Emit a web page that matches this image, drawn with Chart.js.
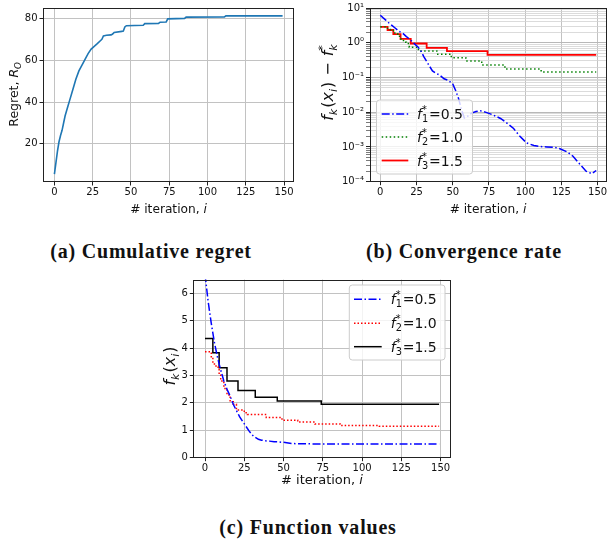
<!DOCTYPE html>
<html><head><meta charset="utf-8">
<script src="https://cdn.jsdelivr.net/npm/chart.js@4.4.0/dist/chart.umd.min.js"></script>
<style>
html,body{margin:0;padding:0;background:#fff;}
#page{position:relative;width:607px;height:542px;overflow:hidden;background:#fff;}
canvas{position:absolute;display:block;}
.cap{position:absolute;font-family:"Liberation Serif","Times New Roman",serif;font-weight:bold;font-size:20px;line-height:20px;letter-spacing:0.8px;white-space:nowrap;transform:translateX(-50%);color:#111;}
</style></head>
<body><div id="page">
<canvas id="ca" width="300" height="225" style="left:0;top:0"></canvas>
<div style="position:absolute;left:300px;top:0;width:307px;height:225px;overflow:hidden"><canvas id="cb" width="330" height="225" style="left:0;top:0"></canvas></div>
<canvas id="cc" width="310" height="225" style="left:150px;top:270px"></canvas>
<div class="cap" style="left:151px;top:241px">(a) Cumulative regret</div>
<div class="cap" style="left:464px;top:241px">(b) Convergence rate</div>
<div class="cap" style="left:308px;top:517px">(c) Function values</div>
</div>
<script>
// ---------- data ----------
const xTicks = [0, 25, 50, 75, 100, 125, 150];
const yTicksA = [20, 40, 60, 80];
const yTicksC = [0, 1, 2, 3, 4, 5, 6];
const logExpsB = [-4, -3, -2, -1, 0, 1];
const logLabelsB = ['10\u207B\u2074', '10\u207B\u00B3', '10\u207B\u00B2', '10\u207B\u00B9', '10\u2070', '10\u00B9'];
const fStarLabels = ['0.5', '1.0', '1.5'];

// (a) cumulative regret
const iterA = [0, 1, 2, 3, 4, 5, 6, 7, 8, 9, 10, 12, 14, 16, 18, 20, 22, 24, 26, 28, 30, 31, 32, 34, 37, 38, 39, 44, 45, 46, 47, 58, 59, 68, 69, 73, 74, 85, 86, 111, 112, 149];
const regretA = [5.5, 11, 16.5, 21, 24, 26.5, 30, 33.5, 36, 38.5, 41, 46, 51, 55, 57.8, 60.6, 63.3, 65.5, 66.8, 68.1, 69.5, 70.2, 71.8, 72.1, 72.3, 72.7, 73.5, 74.0, 74.1, 76.1, 76.7, 76.9, 77.7, 77.8, 78.4, 78.5, 80.0, 80.2, 80.8, 80.9, 81.4, 81.4];

// (b) gaps f_k(x_i) - f_k*
const iterF1 = [0, 2, 4, 6, 8, 10, 12, 14, 16, 18, 20, 22, 24, 26, 28, 30, 32, 34, 36, 38, 41, 44, 47, 50, 52, 54, 56, 58, 60, 63, 66, 69, 73, 78, 83, 87, 92, 96, 101, 106, 110, 115, 120, 124, 129, 133, 138, 142, 146, 149];
const gapF1 = [6.2, 5.2, 4.4, 3.7, 3.15, 2.7, 2.3, 2.0, 1.8, 1.5, 1.3, 1.08, 0.9, 0.76, 0.58, 0.4, 0.29, 0.21, 0.155, 0.135, 0.117, 0.092, 0.082, 0.065, 0.042, 0.025, 0.012, 0.0068, 0.0075, 0.0094, 0.0105, 0.011, 0.0099, 0.0083, 0.0066, 0.005, 0.0034, 0.0021, 0.0013, 0.0011, 0.00103, 0.001, 0.00098, 0.00089, 0.00072, 0.00054, 0.00031, 0.0002, 0.00017, 0.00021];
const iterF2 = [0, 4, 5, 7, 9, 10, 12, 14, 16, 18, 20, 25, 27, 39, 49, 59, 70, 86, 111, 149];
const gapF2 = [2.87, 2.62, 2.42, 2.30, 2.08, 1.80, 1.53, 1.29, 1.04, 0.95, 0.74, 0.64, 0.58, 0.47, 0.37, 0.30, 0.23, 0.175, 0.144, 0.144];
const iterF3 = [0, 5, 9, 14, 21, 32, 46, 74, 149];
const gapF3 = [2.85, 2.33, 1.78, 1.30, 0.95, 0.71, 0.57, 0.45, 0.45];

// (c) function values f_k(x_i)
const iterC1 = [0, 2, 4, 6, 8, 10, 12, 14, 16, 18, 20, 22, 24, 26, 28, 30, 32, 34, 36, 38, 41, 44, 47, 50, 55, 60, 149];
const valC1 = [6.7, 5.7, 4.9, 4.2, 3.65, 3.2, 2.8, 2.5, 2.25, 1.95, 1.72, 1.5, 1.32, 1.15, 0.98, 0.83, 0.74, 0.67, 0.64, 0.62, 0.605, 0.585, 0.575, 0.56, 0.52, 0.505, 0.5];
const valC2 = [3.87, 3.62, 3.42, 3.30, 3.08, 2.80, 2.53, 2.29, 2.04, 1.95, 1.74, 1.64, 1.58, 1.47, 1.37, 1.30, 1.23, 1.175, 1.144, 1.144];
const valC3 = [4.35, 3.83, 3.28, 2.80, 2.45, 2.21, 2.07, 1.95, 1.95];

// ---------- helpers ----------
const pts = (xs, ys) => xs.map((x, i) => ({x: x, y: ys[i]}));
const FAM = '"DejaVu Sans"';
function fontStr(size, it) { return (it ? 'italic ' : '') + size + 'px ' + FAM; }
function measureRuns(ctx, runs, size) {
  let w = 0;
  for (const r of runs) {
    if (r.t !== undefined) { ctx.font = fontStr(size, r.it); r._w = ctx.measureText(r.t).width + (r.pad || 0) * 2; }
    else {
      const s = size * 0.7;
      ctx.font = fontStr(s, r.subIt); const a = r.sub ? ctx.measureText(r.sub).width : 0;
      ctx.font = fontStr(s, r.supIt); const b = r.sup ? ctx.measureText(r.sup).width : 0;
      r._w = Math.max(a, b) + size * 0.06;
    }
    w += r._w;
  }
  return w;
}
function drawRuns(ctx, runs, x, y, size, color) {
  let cx = x;
  ctx.fillStyle = color; ctx.textBaseline = 'alphabetic'; ctx.textAlign = 'left';
  for (const r of runs) {
    if (r.t !== undefined) { ctx.font = fontStr(size, r.it); ctx.fillText(r.t, cx + (r.pad || 0), y); }
    else {
      const s = size * 0.7;
      if (r.sub) { ctx.font = fontStr(s, r.subIt); ctx.fillText(r.sub, cx, y + size * 0.22); }
      if (r.sup) { ctx.font = fontStr(s, r.supIt); ctx.fillText(r.sup, cx, y - size * 0.42); }
    }
    cx += r._w;
  }
}
function drawLabel(ctx, L) {
  const w = measureRuns(ctx, L.runs, L.size);
  ctx.save();
  ctx.translate(L.x, L.y);
  if (L.rot) ctx.rotate(-Math.PI / 2);
  drawRuns(ctx, L.runs, -w / 2, 0, L.size, '#111');
  ctx.restore();
}
function drawLegend(ctx, chart, L) {
  ctx.save();
  ctx.beginPath();
  if (ctx.roundRect) ctx.roundRect(L.bx, L.by, L.bw, L.bh, 3); else ctx.rect(L.bx, L.by, L.bw, L.bh);
  ctx.fillStyle = 'rgba(255,255,255,0.8)'; ctx.fill();
  ctx.strokeStyle = '#cccccc'; ctx.lineWidth = 1; ctx.stroke();
  chart.data.datasets.forEach((ds, k) => {
    const y = L.rows[k];
    ctx.strokeStyle = ds.borderColor; ctx.lineWidth = ds.borderWidth; ctx.setLineDash(ds.borderDash || []);
    ctx.beginPath(); ctx.moveTo(L.x1, y); ctx.lineTo(L.x2, y); ctx.stroke();
    ctx.setLineDash([]);
    const runs = [{t: 'f', it: 1}, {sup: '*', sub: String(k + 1)}, {t: '=' + fStarLabels[k]}];
    measureRuns(ctx, runs, 14);
    drawRuns(ctx, runs, L.tx, y + 5, 14, '#111');
  });
  ctx.restore();
}
const decoConf = {};
const decoPlugin = {
  id: 'deco',
  afterDatasetsDraw(chart) {
    const conf = decoConf[chart.canvas.id]; if (!conf) return;
    const ctx = chart.ctx, a = chart.chartArea;
    ctx.save();
    ctx.setLineDash([]);
    ctx.strokeStyle = '#222'; ctx.lineWidth = 1;
    ctx.strokeRect(Math.round(a.left) + 0.5, Math.round(a.top) + 0.5, Math.round(a.right) - Math.round(a.left) - 1, Math.round(a.bottom) - Math.round(a.top) - 1);
    for (const L of conf.labels) drawLabel(ctx, L);
    if (conf.legend) drawLegend(ctx, chart, conf.legend);
    ctx.restore();
  }
};

const tickFont = {family: 'DejaVu Sans', size: 10};
function xScale(h) {
  return {
    type: 'linear', min: -7.45, max: 156.45,
    afterBuildTicks: s => { s.ticks = xTicks.map(v => ({value: v})); },
    afterFit: s => { s.height = h; },
    ticks: {font: tickFont, color: '#111', padding: 1, autoSkip: false, maxRotation: 0, callback: v => String(v)},
    grid: {color: '#c2c2c2', lineWidth: 1, tickLength: 3.5, tickColor: '#222', tickWidth: 1},
    border: {display: false}
  };
}
function linY(min, max, ticks, w) {
  return {
    type: 'linear', min: min, max: max,
    afterBuildTicks: s => { s.ticks = ticks.map(v => ({value: v})); },
    afterFit: s => { s.width = w; },
    ticks: {font: tickFont, color: '#111', padding: 2, autoSkip: false, callback: v => String(v)},
    grid: {color: '#c2c2c2', lineWidth: 1, tickLength: 3.5, tickColor: '#222', tickWidth: 1},
    border: {display: false}
  };
}
function opts(padding, xh, y) {
  return {
    responsive: false, animation: false, events: [],
    layout: {padding: padding},
    plugins: {legend: {display: false}, tooltip: {enabled: false}},
    elements: {point: {radius: 0}, line: {tension: 0}},
    scales: {x: xScale(xh), y: y}
  };
}
const xLabelRuns = () => [{t: '# iteration, '}, {t: 'i', it: 1}];

// ---------- (a) ----------
decoConf.ca = {labels: [
  {runs: [{t: 'Regret, '}, {t: 'R', it: 1}, {sub: 'O', subIt: 1}], size: 12.5, x: 18.3, y: 94, rot: true},
  {runs: xLabelRuns(), size: 12.2, x: 168.5, y: 213}
]};
new Chart(document.getElementById('ca'), {
  type: 'line',
  data: {datasets: [{data: pts(iterA, regretA), borderColor: '#1f77b4', borderWidth: 1.6, fill: false}]},
  options: opts({left: 0, top: 4, right: 6, bottom: 0}, 43, linY(1.7, 85.2, yTicksA, 43)),
  plugins: [decoPlugin]
});

// ---------- (b) ----------
decoConf.cb = {
  labels: [
    {runs: [{t: 'f', it: 1}, {sub: 'k', subIt: 1}, {t: '('}, {t: 'x', it: 1}, {sub: 'i', subIt: 1}, {t: ')'}, {t: '\u2212', pad: 6}, {t: 'f', it: 1}, {sup: '*', sub: 'k', subIt: 1}], size: 16, x: 33, y: 82, rot: true},
    {runs: xLabelRuns(), size: 12.2, x: 188, y: 213}
  ],
  legend: {bx: 76.5, by: 100, bw: 96, bh: 74, x1: 81.7, x2: 108.3, tx: 117, rows: [114, 137, 160.5]}
};
const yB = {
  type: 'logarithmic', min: 1e-4, max: 10,
  afterBuildTicks: s => {
    const t = [];
    logExpsB.forEach((e, k) => {
      t.push({value: Math.pow(10, e), major: true});
      if (k < logExpsB.length - 1) for (let m = 2; m <= 9; m++) t.push({value: m * Math.pow(10, e), major: false});
    });
    s.ticks = t;
  },
  afterFit: s => { s.width = 69.5; },
  ticks: {font: tickFont, color: '#111', padding: 2, autoSkip: false,
    callback: (v, i, ticks) => {
      if (!ticks[i].major) return '';
      const e = Math.round(Math.log10(v));
      return logLabelsB[logExpsB.indexOf(e)];
    }},
  grid: {
    color: c => (c.tick && c.tick.major) ? '#b8b8b8' : '#d2d2d2',
    lineWidth: c => (c.tick && c.tick.major) ? 1 : 0.8,
    tickLength: 3.5, tickColor: '#222', tickWidth: c => (c.tick && c.tick.major) ? 1 : 0.6
  },
  border: {display: false}
};
new Chart(document.getElementById('cb'), {
  type: 'line',
  data: {datasets: [
    {data: pts(iterF1, gapF1), borderColor: '#0000ff', borderWidth: 1.5, borderDash: [8, 2.5, 1.5, 2.5], fill: false},
    {data: pts(iterF2, gapF2), borderColor: '#008000', borderWidth: 1.5, borderDash: [1.5, 2.5], stepped: true, fill: false},
    {data: pts(iterF3, gapF3), borderColor: '#ff0000', borderWidth: 1.8, stepped: true, fill: false}
  ]},
  options: opts({left: 0, top: 6.5, right: 23, bottom: 0}, 43.3, yB),
  plugins: [decoPlugin]
});

// ---------- (c) ----------
decoConf.cc = {
  labels: [
    {runs: [{t: 'f', it: 1}, {sub: 'k', subIt: 1}, {t: '('}, {t: 'x', it: 1}, {sub: 'i', subIt: 1}, {t: ')'}], size: 16, x: 25, y: 96, rot: true},
    {runs: xLabelRuns(), size: 13, x: 172, y: 214}
  ],
  legend: {bx: 199.3, by: 15, bw: 95.7, bh: 75, x1: 204, x2: 231.7, tx: 240.7, rows: [29.3, 53.3, 76.7]}
};
new Chart(document.getElementById('cc'), {
  type: 'line',
  data: {datasets: [
    {data: pts(iterC1, valC1), borderColor: '#0000ff', borderWidth: 1.5, borderDash: [8, 2.5, 1.5, 2.5], fill: false},
    {data: pts(iterF2, valC2), borderColor: '#ff0000', borderWidth: 1.5, borderDash: [1.5, 2], stepped: true, fill: false},
    {data: pts(iterF3, valC3), borderColor: '#000000', borderWidth: 1.5, stepped: true, fill: false}
  ]},
  options: opts({left: 0, top: 9.6, right: 9.2, bottom: 0}, 37.3, linY(0, 6.5, yTicksC, 43.3)),
  plugins: [decoPlugin]
});
</script>
</body></html>
